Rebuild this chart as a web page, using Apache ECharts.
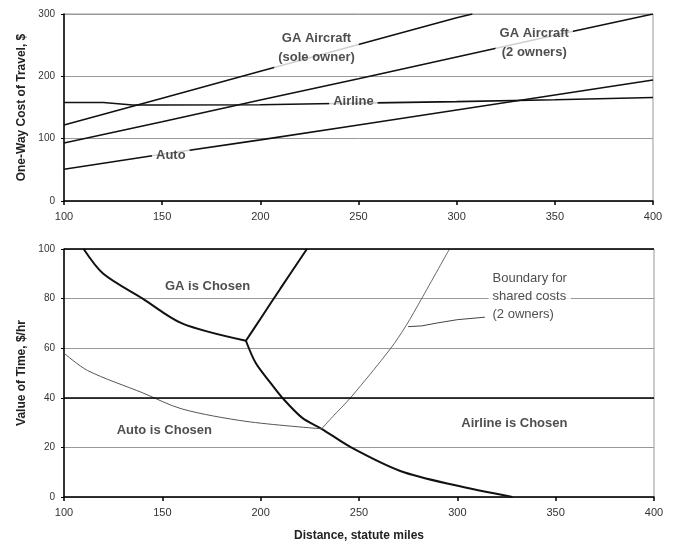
<!DOCTYPE html>
<html><head><meta charset="utf-8">
<script src="https://cdn.jsdelivr.net/npm/echarts@6/dist/echarts.min.js"></script>
<style>html,body{margin:0;padding:0;background:#fff}#c{width:675px;height:543px}</style>
</head><body><div id="c"></div>
<script>
// ---- Top chart: one-way cost of travel ($) vs distance (statute miles)
const gaSoleX = [100, 150, 200, 250, 300, 308];
const gaSoleY = [122, 165, 208, 251, 294, 300];
const ga2X = [100, 150, 200, 250, 300, 350, 400];
const ga2Y = [93, 127, 162, 196, 231, 266, 300];
const airlineX = [100, 120, 135, 150, 200, 230, 250, 300, 350, 400];
const airlineY = [158, 158, 154, 154, 154.5, 156, 157, 159.5, 162.5, 166];
const autoX = [100, 150, 200, 250, 300, 350, 400];
const autoY = [51, 75, 98, 122, 146, 170, 194];
const costTicks = [0, 100, 200, 300];

// ---- Bottom chart: value of time ($/hr) boundaries vs distance
const gaUpperX = [110, 120, 140, 160, 192.5];
const gaUpperY = [100, 90, 80, 70, 63];
const gaRightX = [192.5, 200, 210, 223.5];
const gaRightY = [63, 72, 84, 100];
const airlineLowX = [192.5, 197.5, 205, 211, 221, 231, 246, 271, 299, 328];
const airlineLowY = [63, 54, 46, 40, 32, 27.5, 20, 10.5, 4.7, 0];
const autoBoundX = [100, 112, 140, 160, 192.5, 231];
const autoBoundY = [58, 51, 42, 35.5, 30.5, 27.5];
const sharedX = [231, 236.5, 246, 266, 274, 281.5, 296];
const sharedY = [27.5, 32.3, 40.3, 59.8, 69.2, 79.5, 100];
const leaderX = [275, 282, 290, 300, 314];
const leaderY = [68.7, 69, 70.2, 71.5, 72.5];
const timeTicks = [0, 20, 40, 60, 80, 100];
const distTicks = [100, 150, 200, 250, 300, 350, 400];

// ---- Annotation texts and their anchors (data coordinates)
const topLabels = ['GA Aircraft\n(sole owner)', 'GA Aircraft\n(2 owners)', 'Airline', 'Auto'];
const topLabelX = [228.6, 339.5, 247.4, 154.4];
const topLabelY = [246, 254, 159.6, 73.8];
const bottomLabels = ['GA is Chosen', 'Auto is Chosen', 'Airline is Chosen'];
const bottomLabelX = [173, 151, 329];
const bottomLabelY = [85, 27, 29.8];
const boundaryLabel = 'Boundary for\nshared costs\n(2 owners)';
const boundaryLabelX = [315.6];
const boundaryLabelY = [80.7];

const zip = (xs, ys) => xs.map((x, i) => [x, ys[i]]);
const FONT = 'Liberation Sans, Arial, sans-serif';

function lineSeries(xs, ys, idx, width, color, smooth) {
  return {
    type: 'line', xAxisIndex: idx, yAxisIndex: idx, data: zip(xs, ys),
    showSymbol: false, symbol: 'none', smooth: smooth || false,
    lineStyle: { color: color, width: width }, z: 3, silent: true
  };
}

function labelSeries(texts, xs, ys, idx, extra) {
  return {
    type: 'scatter', xAxisIndex: idx, yAxisIndex: idx, symbolSize: 1,
    itemStyle: { color: 'rgba(0,0,0,0)' }, z: 10, silent: true,
    data: texts.map((t, i) => ({ value: [xs[i], ys[i]], name: t })),
    label: Object.assign({
      show: true, position: 'inside', formatter: p => p.name,
      fontFamily: FONT, fontSize: 13, fontWeight: 'bold', color: '#222',
      lineHeight: 19
    }, extra || {})
  };
}

const xAxisBase = (idx) => ({
  type: 'value', gridIndex: idx, min: 100, max: 400, interval: 50,
  axisLine: { show: true, lineStyle: { color: '#000', width: 1.5 } },
  axisTick: { show: true, inside: false, length: 4, lineStyle: { color: '#000', width: 1.5 } },
  axisLabel: { fontFamily: FONT, fontSize: 11, color: '#333', margin: 10,
    formatter: v => distTicks.includes(v) ? String(v) : '' },
  splitLine: { show: false }
});

const option = {
  backgroundColor: '#fff',
  animation: false,
  grid: [
    { left: 64, right: 22, top: 14, height: 187, show: true, borderColor: '#999', borderWidth: 1, containLabel: false },
    { left: 64, right: 21, top: 249, height: 248, show: true, borderColor: '#999', borderWidth: 1, containLabel: false }
  ],
  xAxis: [
    xAxisBase(0),
    Object.assign(xAxisBase(1), {
      name: 'Distance, statute miles', nameLocation: 'middle', nameGap: 33,
      nameTextStyle: { fontFamily: FONT, fontSize: 12, fontWeight: 'bold', color: '#222' }
    })
  ],
  yAxis: [
    {
      type: 'value', gridIndex: 0, min: 0, max: 300, interval: 100,
      name: 'One-Way Cost of Travel, $', nameLocation: 'middle', nameGap: 36, nameRotate: 90,
      nameTextStyle: { fontFamily: FONT, fontSize: 12, fontWeight: 'bold', color: '#222' },
      axisLine: { show: true, lineStyle: { color: '#000', width: 1.5 } },
      axisTick: { show: true, length: 3, lineStyle: { color: '#000' } },
      axisLabel: { fontFamily: FONT, fontSize: 10, color: '#333', margin: 9,
        formatter: v => costTicks.includes(v) ? String(v) : '' },
      splitLine: { show: true, lineStyle: { color: '#999', width: 1 } }
    },
    {
      type: 'value', gridIndex: 1, min: 0, max: 100, interval: 20,
      name: 'Value of Time, $/hr', nameLocation: 'middle', nameGap: 36, nameRotate: 90,
      nameTextStyle: { fontFamily: FONT, fontSize: 12, fontWeight: 'bold', color: '#222' },
      axisLine: { show: true, lineStyle: { color: '#000', width: 1.5 } },
      axisTick: { show: true, length: 3, lineStyle: { color: '#000' } },
      axisLabel: { fontFamily: FONT, fontSize: 10, color: '#333', margin: 9,
        formatter: v => timeTicks.includes(v) ? String(v) : '' },
      splitLine: { show: true, lineStyle: { color: '#999', width: 1 } }
    }
  ],
  series: [
    lineSeries(gaSoleX, gaSoleY, 0, 1.6, '#111'),
    lineSeries(ga2X, ga2Y, 0, 1.6, '#111'),
    lineSeries(airlineX, airlineY, 0, 1.6, '#111'),
    lineSeries(autoX, autoY, 0, 1.6, '#111'),
    Object.assign(lineSeries(gaUpperX, gaUpperY, 1, 2, '#111', 0.3), {
      markLine: {
        silent: true, symbol: 'none', label: { show: false },
        lineStyle: { color: '#000', width: 1.5, type: 'solid' },
        data: [{ yAxis: 40 }, { yAxis: 100 }]
      }
    }),
    lineSeries(gaRightX, gaRightY, 1, 2, '#111', 0.3),
    lineSeries(airlineLowX, airlineLowY, 1, 2, '#111', 0.3),
    lineSeries(autoBoundX, autoBoundY, 1, 1, '#555', 0.3),
    lineSeries(sharedX, sharedY, 1, 1, '#666', 0.3),
    lineSeries(leaderX, leaderY, 1, 1, '#444', 0),
    labelSeries(topLabels, topLabelX, topLabelY, 0, {
      backgroundColor: '#fff', padding: [4, 4, 5, 4]
    }),
    labelSeries(bottomLabels, bottomLabelX, bottomLabelY, 1, {}),
    labelSeries([boundaryLabel], boundaryLabelX, boundaryLabelY, 1, {
      position: 'right', distance: 0, align: 'left',
      fontWeight: 'normal', fontSize: 13, lineHeight: 18, color: '#222',
      backgroundColor: '#fff', padding: [2, 4, 2, 4]
    })
  ]
};

const chart = echarts.init(document.getElementById('c'), null, { renderer: 'canvas' });
chart.setOption(option);
</script>
</body></html>
